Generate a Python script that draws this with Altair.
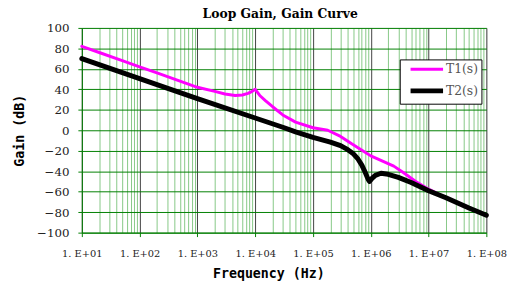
import altair as alt
import pandas as pd

series_names = ["T1(s)", "T2(s)"]
series_colors = ["#FF00FF", "#000000"]
series_widths = [3, 5]

freq_t1 = [10, 20, 50, 100, 200, 500, 1000, 2000, 3000, 4500, 6000, 7500, 8500, 10000,
           12000, 15000, 20000, 30000, 50000, 100000, 180000, 300000, 460000, 680000,
           1000000, 2500000, 3700000, 6000000, 10000000, 20000000, 50000000, 100000000]
gain_t1 = [82, 76, 68, 62, 56, 48, 42, 38, 35.5, 34, 34.5, 36, 37.5, 40,
           34, 29, 23, 15, 8, 2.5, 0, -6, -13, -19,
           -25, -35, -41.5, -50, -57.5, -66, -76, -83]

freq_t2 = [10, 100, 1000, 10000, 30000, 50000, 100000, 200000, 300000, 400000, 500000,
           600000, 700000, 800000, 900000, 950000, 1050000, 1200000, 1500000, 2000000,
           3000000, 5000000, 10000000, 20000000, 50000000, 100000000]
gain_t2 = [70, 50.5, 31, 12, 3, -1.5, -7, -11.5, -15, -19, -23,
           -28, -34, -41, -48, -50, -47, -44, -42, -43,
           -46, -51, -59, -66, -76, -83]

y_ticks = [-100, -80, -60, -40, -20, 0, 20, 40, 60, 80, 100]
x_grid = sorted(set([m * 10 ** k for k in range(1, 8) for m in range(1, 10)] + [10 ** 8]))

rows = []
for f, g in zip(freq_t1, gain_t1):
    rows.append({"freq": f, "gain": g, "series": series_names[0]})
for f, g in zip(freq_t2, gain_t2):
    rows.append({"freq": f, "gain": g, "series": series_names[1]})
df = pd.DataFrame(rows)

is_decade = "abs(log(datum.value)/LN10 - round(log(datum.value)/LN10)) < 0.000001"
expo = "round(log(datum.value)/LN10)"
label_expr = f"({is_decade}) ? '1. E+' + ({expo} < 10 ? '0' : '') + {expo} : ''"

x_axis = alt.Axis(
    values=x_grid,
    labelExpr=label_expr,
    title="Frequency (Hz)",
    grid=True,
    gridColor={"condition": {"test": is_decade, "value": "#404040"}, "value": "#86c886"},
    gridWidth=1,
    tickColor={"condition": {"test": is_decade, "value": "#008000"}, "value": "transparent"},
    tickSize=4,
    domainColor="#008000",
    labelFont="DejaVu Serif",
    labelFontSize=10,
    labelColor="#222222",
    labelPadding=12,
    labelOverlap=False,
    labelFlush=False,
    titleFont="DejaVu Sans Mono",
    titleFontSize=13.5,
    titleFontWeight="bold",
    titleColor="#000000",
    titleX=189.5,
    titleY=46,
    titleAlign="center",
    titleBaseline="alphabetic",
)

y_axis = alt.Axis(
    values=y_ticks,
    title="Gain (dB)",
    grid=True,
    gridColor="#008000",
    gridWidth=1,
    tickColor="#008000",
    tickSize=4,
    domainColor="#008000",
    labelFont="DejaVu Serif",
    labelFontSize=12,
    labelColor="#222222",
    labelPadding=9,
    titleFont="DejaVu Sans Mono",
    titleFontSize=13.5,
    titleFontWeight="bold",
    titleColor="#000000",
    titleX=-63,
    titleY=104,
    titleAngle=270,
    titleAlign="center",
    titleBaseline="middle",
)

legend = alt.Legend(
    orient="none",
    legendX=323,
    legendY=32,
    title=None,
    symbolType="M0,0H6",
    symbolSize=121,
    symbolOffset=0,
    labelOffset=28,
    padding=3,
    rowPadding=5,
    strokeColor="#000000",
    fillColor="#ffffff",
    labelFont="DejaVu Serif",
    labelFontSize=12.5,
    labelColor="#555555",
)

chart = alt.Chart(df).mark_line(strokeCap="round", strokeJoin="round").encode(
    x=alt.X("freq:Q", scale=alt.Scale(type="log", domain=[10, 1e8], nice=False), axis=x_axis),
    y=alt.Y("gain:Q", scale=alt.Scale(domain=[-100, 100], nice=False), axis=y_axis),
    color=alt.Color("series:N", scale=alt.Scale(domain=series_names, range=series_colors), legend=legend),
    strokeWidth=alt.StrokeWidth("series:N", scale=alt.Scale(domain=series_names, range=series_widths), legend=legend),
    order=alt.Order("freq:Q"),
).properties(
    width=411,
    height=208,
    title=alt.Title("Loop Gain, Gain Curve", font="DejaVu Serif", fontSize=12.5, fontWeight="bold",
                    color="#000000", anchor="middle", baseline="alphabetic", offset=-8, dx=-4),
    autosize=alt.AutoSizeParams(type="none"),
    padding={"left": 75, "top": 18, "right": 23, "bottom": 54},
).configure_view(
    stroke="#808080", strokeWidth=1
).configure(background="white")

chart.save("out.html", embed_options={"renderer": "svg", "actions": False})
